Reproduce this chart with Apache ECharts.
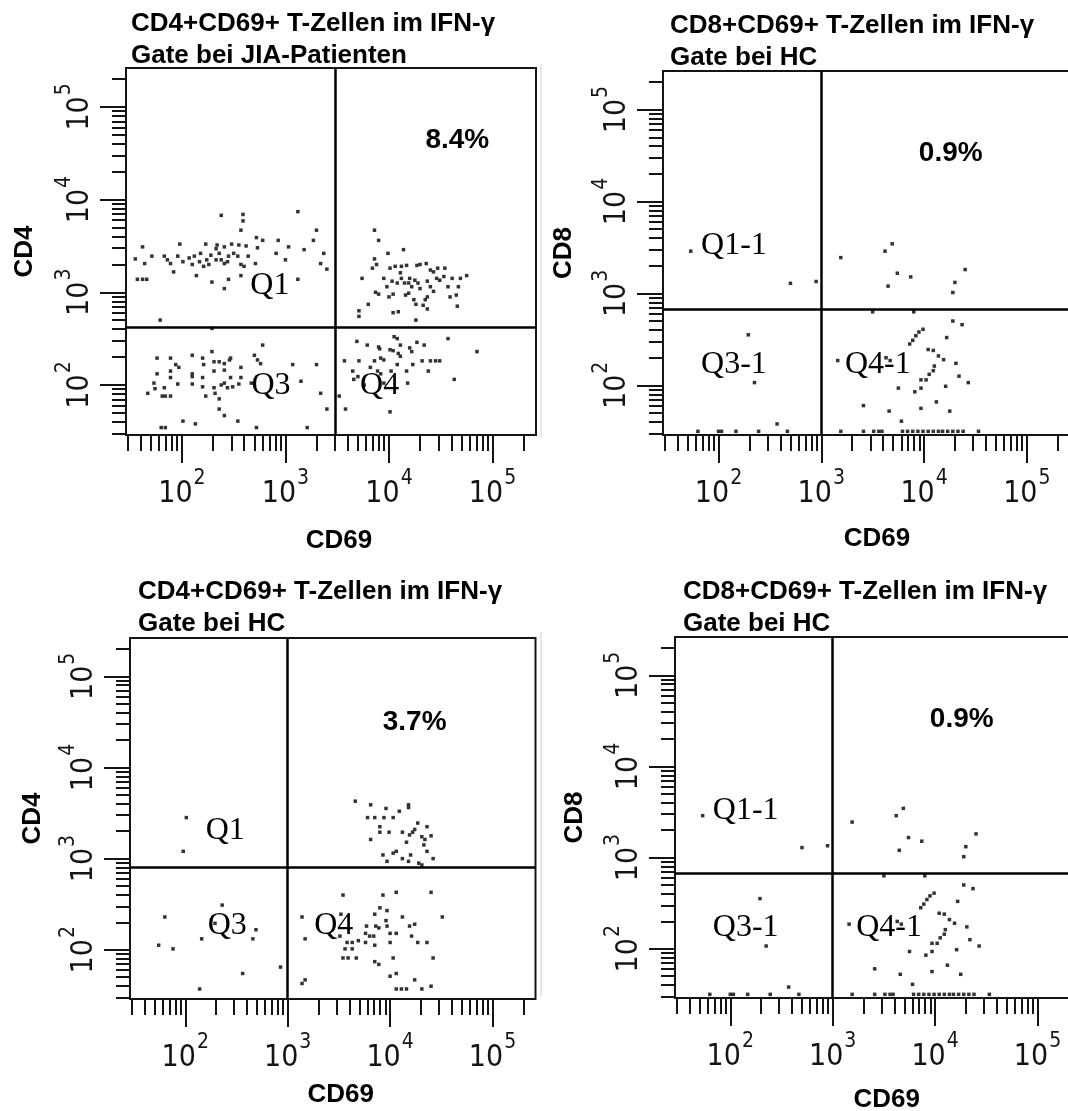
<!DOCTYPE html>
<html>
<head>
<meta charset="utf-8">
<title>CD69+ T-Zellen im IFN-γ Gate</title>
<script src="https://cdn.jsdelivr.net/npm/echarts@6/dist/echarts.min.js"></script>
<style>
  html, body { margin: 0; padding: 0; background: #fff; }
  #chart { width: 1068px; height: 1111px; }
</style>
</head>
<body>
<div id="chart"></div>
<script>
// events, as log10 fluorescence: [CD69, CD4 or CD8]
const cd4JiaEvents = [
  // Q1
  [2.38, 3.83], [2.59, 3.84], [2.59, 3.77], [3.12, 3.87], [2.57, 3.67], [3.30, 3.67], [1.62, 3.49], [1.98, 3.52],
  [2.23, 3.52], [2.34, 3.51], [2.33, 3.47], [2.41, 3.49], [2.48, 3.52], [2.55, 3.51], [2.62, 3.50], [2.72, 3.59],
  [2.78, 3.56], [2.93, 3.56], [3.03, 3.49], [3.27, 3.56], [3.18, 3.46], [3.37, 3.42], [1.55, 3.36], [1.64, 3.31],
  [1.71, 3.39], [1.83, 3.39], [1.86, 3.35], [1.89, 3.31], [1.96, 3.39], [2.01, 3.33], [2.07, 3.37], [2.12, 3.39],
  [2.10, 3.30], [2.18, 3.42], [2.24, 3.35], [2.26, 3.30], [2.28, 3.40], [2.36, 3.42], [2.38, 3.35], [2.41, 3.31],
  [2.45, 3.39], [2.44, 3.33], [2.50, 3.42], [2.54, 3.39], [2.57, 3.30], [2.60, 3.28], [2.64, 3.39], [2.71, 3.31],
  [2.73, 3.48], [2.91, 3.42], [3.00, 3.35], [3.34, 3.31], [3.40, 3.25], [1.57, 3.14], [1.62, 3.14], [1.66, 3.14],
  [1.92, 3.22], [2.14, 3.18], [2.29, 3.11], [2.45, 3.14], [2.41, 3.04], [2.57, 3.18], [3.12, 3.14], [1.79, 2.70],
  [2.21, 3.28], [2.33, 3.35], [2.17, 3.33],
  // Q2
  [3.86, 3.67], [3.90, 3.56], [4.14, 3.46], [3.99, 3.42], [3.86, 3.36], [3.84, 3.26], [3.88, 3.30], [3.74, 3.15],
  [3.95, 3.15], [4.01, 3.26], [4.06, 3.28], [4.12, 3.28], [4.17, 3.29], [4.11, 3.21], [4.12, 3.15], [4.15, 3.10],
  [4.08, 3.10], [4.03, 3.12], [4.27, 3.29], [4.30, 3.30], [4.36, 3.31], [4.40, 3.24], [4.43, 3.22], [4.47, 3.26],
  [4.54, 3.26], [4.25, 3.13], [4.28, 3.10], [4.30, 3.04], [4.22, 3.06], [4.37, 3.12], [4.40, 3.06], [4.46, 3.15],
  [4.49, 3.13], [4.53, 3.17], [4.57, 3.06], [4.61, 3.15], [4.69, 3.15], [4.75, 3.18], [4.67, 3.06], [3.98, 3.06],
  [3.87, 3.00], [3.90, 2.98], [4.00, 2.95], [4.04, 2.98], [4.16, 2.97], [4.19, 2.99], [4.24, 2.92], [4.26, 2.87],
  [4.35, 2.92], [4.37, 2.95], [4.33, 2.86], [4.37, 2.82], [4.59, 2.95], [4.65, 2.97], [4.66, 2.85], [3.80, 2.87],
  [3.71, 2.80], [3.71, 2.74], [4.04, 2.78], [4.09, 2.79], [4.26, 2.70], [4.20, 3.15], [4.19, 3.10], [4.43, 3.01],
  // Q3
  [2.29, 2.61], [2.78, 2.43], [1.76, 2.29], [1.89, 2.29], [2.10, 2.32], [2.20, 2.29], [2.29, 2.36], [2.31, 2.25],
  [2.36, 2.25], [2.41, 2.23], [2.46, 2.27], [2.47, 2.29], [1.94, 2.22], [1.97, 2.19], [2.21, 2.22], [2.31, 2.15],
  [2.41, 2.16], [2.57, 2.19], [2.70, 2.32], [2.73, 2.27], [2.76, 2.23], [3.07, 2.22], [3.30, 2.22], [1.76, 2.12],
  [1.89, 2.15], [1.89, 2.08], [2.10, 2.12], [2.10, 2.09], [2.20, 2.08], [2.47, 2.08], [2.57, 2.08], [1.73, 2.02],
  [1.96, 2.01], [2.10, 2.01], [2.20, 1.98], [1.83, 1.97], [2.38, 2.00], [2.41, 2.02], [2.44, 1.97], [2.49, 1.98],
  [2.55, 2.01], [2.31, 1.97], [3.15, 2.04], [1.67, 1.91], [1.74, 1.96], [1.81, 1.88], [1.84, 1.88], [1.89, 1.88],
  [2.23, 1.88], [2.32, 1.91], [2.36, 1.85], [3.34, 1.91], [2.36, 1.74], [2.41, 1.67], [3.40, 1.74], [2.01, 1.61],
  [2.13, 1.58], [2.54, 1.61], [1.80, 1.54], [1.84, 1.54], [2.72, 1.54], [3.21, 1.54], [2.67, 2.02],
  // Q4
  [3.69, 2.47], [3.79, 2.43], [3.90, 2.41], [3.91, 2.39], [4.05, 2.52], [4.08, 2.50], [4.11, 2.43], [4.04, 2.37],
  [4.20, 2.40], [4.22, 2.36], [4.27, 2.46], [4.34, 2.43], [4.57, 2.50], [4.85, 2.36], [3.57, 2.26], [3.71, 2.26],
  [3.86, 2.26], [3.92, 2.29], [3.95, 2.27], [4.01, 2.38], [4.09, 2.34], [4.11, 2.31], [4.08, 2.22], [4.23, 2.22],
  [4.32, 2.26], [4.40, 2.26], [4.45, 2.26], [4.49, 2.26], [4.38, 2.15], [3.82, 2.19], [4.02, 2.15], [4.17, 2.15],
  [3.65, 2.15], [3.70, 2.09], [3.89, 2.15], [3.92, 2.12], [4.63, 2.06], [4.18, 2.02], [3.66, 2.06], [3.52, 1.88],
  [3.58, 1.74], [4.01, 1.71], [3.76, 2.00], [3.95, 2.02]
];

const cd4HcEvents = [
  // Q1
  [2.01, 3.45], [1.98, 3.08],
  // Q2
  [3.66, 3.63], [3.81, 3.59], [3.96, 3.55], [4.09, 3.52], [4.18, 3.59], [4.18, 3.56], [3.78, 3.45], [3.85, 3.45],
  [3.94, 3.45], [4.03, 3.45], [3.90, 3.35], [3.90, 3.29], [3.99, 3.29], [4.12, 3.29], [4.19, 3.26], [4.22, 3.29],
  [4.24, 3.32], [4.27, 3.39], [4.36, 3.35], [4.31, 3.24], [4.34, 3.21], [4.40, 3.25], [3.81, 3.21], [4.16, 3.18],
  [4.33, 3.15], [4.36, 3.08], [4.42, 3.00], [3.93, 3.04], [4.03, 3.06], [4.06, 3.08], [4.12, 3.00], [4.20, 3.04],
  [3.97, 2.97], [4.18, 2.97], [4.28, 2.95], [4.31, 2.93],
  // Q3
  [2.36, 2.49], [1.80, 2.36], [1.74, 2.05], [1.88, 2.01], [2.16, 2.12], [2.66, 2.12], [2.69, 2.22], [2.56, 1.74],
  [2.93, 1.81], [2.14, 1.57], [2.29, 2.29],
  // Q4
  [3.54, 2.60], [3.93, 2.60], [4.06, 2.63], [4.40, 2.63], [3.14, 2.36], [3.52, 2.39], [3.90, 2.46], [3.85, 2.39],
  [3.97, 2.43], [4.12, 2.36], [4.51, 2.36], [3.96, 2.32], [3.77, 2.26], [3.86, 2.26], [3.89, 2.24], [3.97, 2.26],
  [4.19, 2.26], [4.24, 2.28], [3.17, 2.12], [3.51, 2.15], [3.76, 2.18], [3.80, 2.15], [3.84, 2.15], [4.00, 2.18],
  [4.06, 2.18], [4.21, 2.15], [3.58, 2.08], [3.63, 2.08], [3.69, 2.10], [3.76, 2.08], [4.00, 2.08], [4.27, 2.08],
  [4.36, 2.08], [3.85, 2.05], [3.56, 2.01], [3.63, 2.01], [3.54, 1.91], [3.59, 1.91], [3.67, 1.91], [3.85, 1.87],
  [3.89, 1.84], [4.03, 1.91], [4.42, 1.91], [4.00, 1.71], [4.06, 1.74], [4.24, 1.67], [3.14, 1.63], [3.17, 1.67],
  [4.06, 1.57], [4.11, 1.57], [4.16, 1.57], [4.31, 1.57], [4.40, 1.60]
];

// the two CD8 plots (HC) show the same events
const cd8HcEvents = [
  // Q1-1 / Q2-1
  [1.73, 3.46], [3.19, 3.39], [3.62, 3.46], [3.69, 3.54], [3.74, 3.22], [3.87, 3.18], [4.40, 3.26], [4.30, 3.12],
  [2.95, 3.13], [2.70, 3.11], [3.65, 3.08], [4.28, 3.01], [3.50, 2.80], [3.90, 2.80],
  // Q4-1
  [4.28, 2.70], [4.37, 2.66], [4.22, 2.52], [3.99, 2.61], [3.95, 2.58], [3.92, 2.54], [3.89, 2.49], [3.86, 2.45],
  [4.04, 2.39], [4.09, 2.38], [4.14, 2.32], [4.19, 2.28], [3.63, 2.30], [3.67, 2.27], [3.16, 2.27], [4.10, 2.21],
  [4.31, 2.24], [4.09, 2.16], [4.05, 2.12], [4.34, 2.10], [4.43, 2.03], [3.97, 2.06], [4.02, 2.06], [4.21, 1.99],
  [3.75, 1.97], [3.91, 1.93], [3.97, 1.97], [4.12, 1.82], [3.41, 1.78], [3.66, 1.72], [3.97, 1.75], [4.25, 1.72],
  [3.78, 1.61], [3.19, 1.50], [3.41, 1.50], [3.51, 1.50], [3.56, 1.50], [3.59, 1.50], [3.79, 1.50], [3.84, 1.50],
  [3.89, 1.50], [3.94, 1.50], [3.99, 1.50], [4.04, 1.50], [4.09, 1.50], [4.14, 1.50], [4.18, 1.50], [4.23, 1.50],
  [4.28, 1.50], [4.33, 1.50], [4.38, 1.50], [4.53, 1.50],
  // Q3-1
  [2.29, 2.55], [2.35, 2.03], [2.57, 1.58], [1.80, 1.50], [2.00, 1.50], [2.03, 1.50], [2.17, 1.50], [2.39, 1.50],
  [2.67, 1.50]
];

// quadrant gates [CD69, CD4/CD8], log10
const cd4JiaGate = [3.48, 2.62];
const cd4HcGate = [3.0, 2.90];
const cd8HcGate = [3.0, 2.83];

// quadrant names and the Q2 share, placed in log10 data units
const cd4JiaTags = [['Q1', 2.85, 3.07], ['Q3', 2.86, 1.99], ['Q4', 3.91, 1.99]];
const cd4HcTags = [['Q1', 2.39, 3.31], ['Q3', 2.41, 2.27], ['Q4', 3.45, 2.27]];
const cd8HcTags = [['Q1-1', 2.15, 3.52], ['Q3-1', 2.15, 2.23], ['Q4-1', 3.55, 2.23]];
const cd4JiaShare = ['8.4%', 4.66, 4.64];
const cd4HcShare = ['3.7%', 4.24, 4.49];
const cd8HcShare = ['0.9%', 4.26, 4.52];

const axisRange = [1.46, 5.42];
const decadeTicks = [2, 3, 4, 5];

// log spaced minor ticks at 2..9 x 10^n
const minorTicks = [];
for (let d = 1; d <= 5; d++) {
  for (let k = 2; k <= 9; k++) {
    const v = d + Math.log10(k);
    if (v > axisRange[0] && v < axisRange[1]) minorTicks.push(v);
  }
}

const INK = '#141414';
const SANS = '"Liberation Sans", Arial, sans-serif';
const NARROW = '"Liberation Sans Narrow", "DejaVu Sans Condensed", "Liberation Sans", sans-serif';
const SERIF = '"Liberation Serif", "Times New Roman", serif';

const panels = [
  {
    title: 'CD4+CD69+ T-Zellen im IFN-γ\nGate bei JIA-Patienten', titleAt: [131, 8],
    grid: { left: 126, top: 68, width: 410, height: 367 },
    yName: 'CD4', xGap: 93, xShift: 16, yGap: 88,
    events: cd4JiaEvents, gate: cd4JiaGate, tags: cd4JiaTags, share: cd4JiaShare
  },
  {
    title: 'CD8+CD69+ T-Zellen im IFN-γ\nGate bei HC', titleAt: [670, 10],
    grid: { left: 663, top: 71, width: 407, height: 364 },
    yName: 'CD8', xGap: 91, xShift: 21, yGap: 86,
    events: cd8HcEvents, gate: cd8HcGate, tags: cd8HcTags, share: cd8HcShare
  },
  {
    title: 'CD4+CD69+ T-Zellen im IFN-γ\nGate bei HC', titleAt: [138, 576],
    grid: { left: 130, top: 638, width: 405.5, height: 361 },
    yName: 'CD4', xGap: 83, xShift: 16, yGap: 84,
    events: cd4HcEvents, gate: cd4HcGate, tags: cd4HcTags, share: cd4HcShare
  },
  {
    title: 'CD8+CD69+ T-Zellen im IFN-γ\nGate bei HC', titleAt: [683, 576],
    grid: { left: 675, top: 637, width: 405.5, height: 361 },
    yName: 'CD8', xGap: 89, xShift: 18, yGap: 87,
    events: cd8HcEvents, gate: cd8HcGate, tags: cd8HcTags, share: cd8HcShare
  }
];

const tickRich = {
  b: { fontSize: 30, fontFamily: NARROW, color: INK, verticalAlign: 'bottom' },
  e: { fontSize: 21, fontFamily: NARROW, color: INK, verticalAlign: 'bottom', padding: [0, 0, 20, 1] }
};

function baseAxis(gridIndex) {
  return {
    type: 'value',
    gridIndex,
    min: axisRange[0],
    max: axisRange[1],
    splitLine: { show: false },
    axisLine: { show: false, onZero: false },
    axisPointer: { show: false }
  };
}

function minorAxis(dim, gridIndex) {
  return {
    ...baseAxis(gridIndex),
    position: dim === 'x' ? 'bottom' : 'left',
    axisTick: {
      show: true,
      customValues: minorTicks,
      length: dim === 'x' ? 16 : 14,
      lineStyle: { color: INK, width: 2 }
    },
    axisLabel: { show: false }
  };
}

function majorAxis(dim, gridIndex, p) {
  const isX = dim === 'x';
  return {
    ...baseAxis(gridIndex),
    position: isX ? 'bottom' : 'left',
    axisTick: {
      show: true,
      customValues: decadeTicks,
      length: isX ? 28 : 26,
      lineStyle: { color: INK, width: 2 }
    },
    axisLabel: {
      show: true,
      customValues: decadeTicks,
      rotate: isX ? 0 : 90,
      margin: isX ? 33 : 31,
      formatter: (v) => '{b|10}{e|' + Math.round(v) + '}',
      rich: tickRich
    },
    name: isX ? 'CD69' : p.yName,
    nameLocation: 'middle',
    nameGap: isX ? p.xGap : p.yGap,
    nameTextStyle: {
      fontFamily: SANS,
      fontWeight: 'bold',
      fontSize: 26,
      color: '#000',
      padding: isX ? [0, 0, 0, p.xShift] : 0
    }
  };
}

const option = {
  animation: false,
  backgroundColor: '#fff',
  title: [],
  grid: [],
  xAxis: [],
  yAxis: [],
  series: [],
  graphic: [
    // faint crop edge left of the CD8 plots
    { type: 'line', shape: { x1: 541, y1: 64, x2: 541, y2: 438 }, style: { stroke: '#cfcfcf', lineWidth: 1 } },
    { type: 'line', shape: { x1: 541, y1: 632, x2: 541, y2: 996 }, style: { stroke: '#cfcfcf', lineWidth: 1 } }
  ]
};

panels.forEach((p, i) => {
  option.title.push({
    text: p.title,
    left: p.titleAt[0],
    top: p.titleAt[1],
    padding: 0,
    textStyle: { fontFamily: SANS, fontWeight: 'bold', fontSize: 26, lineHeight: 32, color: '#000' }
  });
  option.grid.push({
    ...p.grid,
    show: true,
    borderColor: INK,
    borderWidth: 2,
    backgroundColor: 'transparent',
    containLabel: false,
    outerBoundsMode: 'none'
  });
  option.xAxis.push(minorAxis('x', i), majorAxis('x', i, p));
  option.yAxis.push(minorAxis('y', i), majorAxis('y', i, p));

  option.series.push({
    type: 'scatter',
    name: 'events ' + (i + 1),
    xAxisIndex: 2 * i,
    yAxisIndex: 2 * i,
    symbol: 'rect',
    symbolSize: 3.5,
    itemStyle: { color: '#333', opacity: 1 },
    data: p.events,
    markLine: {
      silent: true,
      symbol: ['none', 'none'],
      label: { show: false },
      lineStyle: { color: '#000', width: 2.5, type: 'solid', opacity: 1 },
      emphasis: { disabled: true },
      data: [{ xAxis: p.gate[0] }, { yAxis: p.gate[1] }]
    }
  });

  const tagItems = p.tags.map(([name, x, y]) => ({
    name,
    value: [x, y],
    label: { fontFamily: SERIF, fontSize: 32, color: '#000', textBorderWidth: 0 }
  }));
  tagItems.push({
    name: p.share[0],
    value: [p.share[1], p.share[2]],
    label: { fontFamily: SANS, fontWeight: 'bold', fontSize: 28, color: '#000', textBorderWidth: 0 }
  });
  option.series.push({
    type: 'scatter',
    name: 'labels ' + (i + 1),
    xAxisIndex: 2 * i,
    yAxisIndex: 2 * i,
    symbolSize: 1,
    silent: true,
    z: 5,
    itemStyle: { color: 'transparent' },
    label: { show: true, position: 'inside', formatter: '{b}', opacity: 1 },
    data: tagItems
  });
});

const chart = echarts.init(document.getElementById('chart'), null, { renderer: 'canvas' });
chart.setOption(option);
window.addEventListener('resize', () => chart.resize());
</script>
</body>
</html>
